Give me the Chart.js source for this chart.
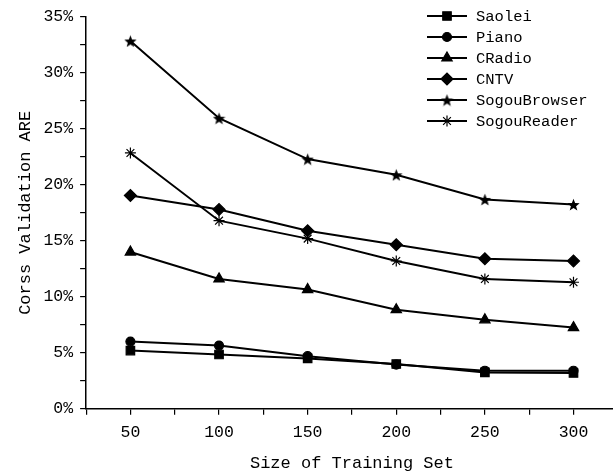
<!DOCTYPE html>
<html>
<head>
<meta charset="utf-8">
<script src="https://cdn.jsdelivr.net/npm/chart.js@4/dist/chart.umd.min.js"></script>
<style>
  html, body { margin: 0; padding: 0; background: #fff; overflow: hidden; }
  #wrap { width: 626px; height: 474px; }
</style>
</head>
<body>
<div id="wrap"><canvas id="chart" width="626" height="474"></canvas></div>
<script>
// Training set sizes (x) and ARE values in percent
const sizes = [50, 100, 150, 200, 250, 300];
const saolei = [5.2, 4.85, 4.5, 4.0, 3.25, 3.2];
const piano = [6.0, 5.65, 4.7, 3.95, 3.4, 3.4];
const cradio = [14.0, 11.6, 10.65, 8.85, 7.95, 7.25];
const cntv = [19.05, 17.8, 15.9, 14.65, 13.4, 13.2];
const sogouBrowser = [32.85, 25.95, 22.3, 20.9, 18.7, 18.25];
const sogouReader = [22.85, 16.8, 15.2, 13.2, 11.6, 11.3];

const FONT = "'Liberation Mono', 'DejaVu Sans Mono', monospace";

// filled five-point star used as point style
function makeStar(size) {
  const c = document.createElement("canvas");
  c.width = size; c.height = size;
  const g = c.getContext("2d");
  const cx = size / 2, cy = size / 2 + 0.8, R = size / 2, r = R * 0.42;
  g.beginPath();
  for (let i = 0; i < 10; i++) {
    const rad = i % 2 === 0 ? R : r;
    const a = -Math.PI / 2 + i * Math.PI / 5;
    const px = cx + rad * Math.cos(a), py = cy + rad * Math.sin(a);
    if (i === 0) g.moveTo(px, py); else g.lineTo(px, py);
  }
  g.closePath();
  g.fillStyle = "#000";
  g.fill();
  return c;
}
const starImg = makeStar(13);

function series(label, values, style, radius) {
  return {
    label: label,
    data: sizes.map((s, i) => ({ x: s, y: values[i] })),
    borderColor: "#000",
    backgroundColor: "#000",
    borderWidth: 2,
    pointStyle: style,
    pointRadius: radius,
    pointBorderWidth: 1.2,
    pointBorderColor: "#000",
    pointBackgroundColor: "#000",
    tension: 0
  };
}

const datasets = [
  series("Saolei", saolei, "rect", 6),
  series("Piano", piano, "circle", 4.5),
  series("CRadio", cradio, "triangle", 6),
  series("CNTV", cntv, "rectRot", 6),
  series("SogouBrowser", sogouBrowser, starImg, 7),
  series("SogouReader", sogouReader, "star", 5.5)
];

// legend drawn as line sample + marker, top right
const lineLegend = {
  id: "lineLegend",
  afterDraw(chart) {
    const ctx = chart.ctx;
    ctx.save();
    ctx.font = "15.5px " + FONT;
    ctx.textBaseline = "middle";
    chart.data.datasets.forEach((ds, i) => {
      const y = 16 + i * 21;
      ctx.strokeStyle = "#000";
      ctx.lineWidth = 2;
      ctx.beginPath();
      ctx.moveTo(427, y);
      ctx.lineTo(467, y);
      ctx.stroke();
      ctx.fillStyle = "#000";
      ctx.lineWidth = 1.2;
      Chart.helpers.drawPoint(ctx, {
        pointStyle: ds.pointStyle,
        radius: ds.pointRadius,
        rotation: 0,
        borderWidth: 1.2
      }, 447, y);
      ctx.fillStyle = "#000";
      ctx.fillText(ds.label, 476, y + 1);
    });
    ctx.restore();
  }
};

new Chart(document.getElementById("chart"), {
  type: "line",
  data: { datasets: datasets },
  options: {
    responsive: false,
    animation: false,
    layout: { padding: { top: 4, right: 4, left: 15, bottom: 0 } },
    plugins: { legend: { display: false }, tooltip: { enabled: false } },
    scales: {
      x: {
        type: "linear",
        min: 25,
        max: 325,
        grid: { drawOnChartArea: false, color: "#000", tickLength: 6, lineWidth: 1.2 },
        border: { display: true, color: "#000", width: 1.5 },
        ticks: {
          stepSize: 25,
          color: "#000",
          font: { family: FONT, size: 16.5 },
          padding: 8,
          maxRotation: 0,
          autoSkip: false,
          callback: v => (v % 50 === 0 ? String(v) : "")
        },
        title: {
          display: true,
          text: "Size of Training Set",
          color: "#000",
          font: { family: FONT, size: 17 },
          padding: { top: 3, bottom: 0 }
        }
      },
      y: {
        min: 0,
        max: 35,
        grid: { drawOnChartArea: false, color: "#000", tickLength: 6, lineWidth: 1.2 },
        border: { display: true, color: "#000", width: 1.5 },
        ticks: {
          stepSize: 2.5,
          color: "#000",
          font: { family: FONT, size: 16.5 },
          padding: 7,
          autoSkip: false,
          callback: v => (v % 5 === 0 ? v + "%" : "")
        },
        title: {
          display: true,
          text: "Corss Validation ARE",
          color: "#000",
          font: { family: FONT, size: 17 },
          padding: { top: 0, bottom: 1 }
        }
      }
    }
  },
  plugins: [lineLegend]
});
</script>
</body>
</html>
